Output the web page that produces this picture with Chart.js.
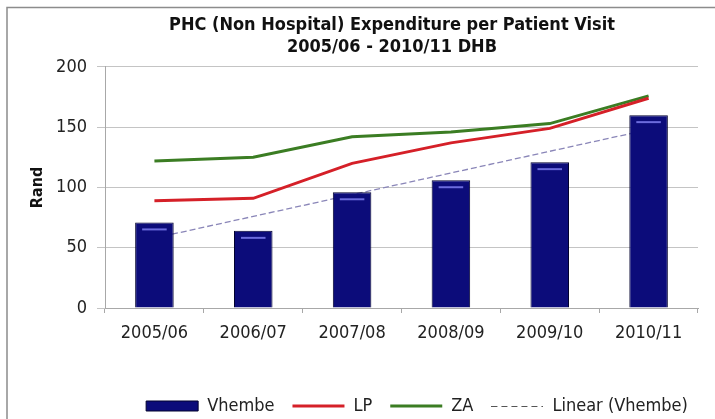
<!DOCTYPE html>
<html>
<head>
<meta charset="utf-8">
<script src="https://cdn.jsdelivr.net/npm/chart.js@4/dist/chart.umd.min.js"></script>
<style>
  html, body { margin: 0; padding: 0; background: #fff; }
  #wrap { width: 715px; height: 419px; position: relative; }
</style>
</head>
<body>
<div id="wrap"><canvas id="chart" width="715" height="419"></canvas></div>
<script>
// data
const years = ['2005/06', '2006/07', '2007/08', '2008/09', '2009/10', '2010/11'];
const vhembe = [71, 64, 96, 106, 121, 160];
const lp = [89, 91, 120, 137, 149, 174];
const za = [122, 125, 142, 146, 153, 176];
const linearVhembe = [58, 76, 94, 112, 130, 148];
const yTicks = [0, 50, 100, 150, 200];

const FONT = "'DejaVu Sans Condensed', 'DejaVu Sans', sans-serif";
const TREND = '#8a86b8';

// dashed swatch for the trendline legend entry
const dashSwatch = document.createElement('canvas');
dashSwatch.width = 52;
dashSwatch.height = 10;
(function () {
    const c = dashSwatch.getContext('2d');
    c.strokeStyle = '#555';
    c.lineWidth = 1.2;
    c.setLineDash([6, 4]);
    c.beginPath();
    c.moveTo(0, 5.5);
    c.lineTo(52, 5.5);
    c.stroke();
})();

// outer frame like the pasted Excel chart
const framePlugin = {
    id: 'frame',
    beforeDraw(chart) {
        const ctx = chart.ctx;
        ctx.save();
        ctx.strokeStyle = '#8c8c8c';
        ctx.lineWidth = 1.5;
        ctx.beginPath();
        ctx.moveTo(7, 419);
        ctx.lineTo(7, 7.5);
        ctx.lineTo(715, 7.5);
        ctx.stroke();
        ctx.restore();
    }
};

// light sheen near the top of every bar
const sheenPlugin = {
    id: 'sheen',
    afterDatasetsDraw(chart) {
        const meta = chart.getDatasetMeta(0);
        const ctx = chart.ctx;
        ctx.save();
        meta.data.forEach(bar => {
            const half = bar.width / 2;
            ctx.strokeStyle = 'rgba(140,140,255,0.75)';
            ctx.lineWidth = 2;
            ctx.beginPath();
            ctx.moveTo(bar.x - half + 7, bar.y + 7);
            ctx.lineTo(bar.x + half - 7, bar.y + 7);
            ctx.stroke();
        });
        ctx.restore();
    }
};

// title and legend sit a bit right of centre in the original
const shiftPlugin = {
    id: 'shift',
    afterLayout(chart) {
        chart.titleBlock.left += 33;
        chart.titleBlock.right += 33;
        chart.legend.left += 58;
        chart.legend.right += 58;
        chart.legend.top += 8;
        chart.legend.bottom += 8;
    }
};

new Chart(document.getElementById('chart'), {
    type: 'bar',
    data: {
        labels: years,
        datasets: [
            {
                type: 'bar', label: 'Vhembe', data: vhembe,
                backgroundColor: '#0c0c7a', borderColor: '#02022e', borderWidth: 1,
                barPercentage: 0.39, categoryPercentage: 1, pointStyle: 'rect'
            },
            {
                type: 'line', label: 'LP', data: lp,
                borderColor: '#d52028', backgroundColor: '#d52028', borderWidth: 3,
                pointRadius: 0, pointStyle: 'line', tension: 0
            },
            {
                type: 'line', label: 'ZA', data: za,
                borderColor: '#3b7d23', backgroundColor: '#3b7d23', borderWidth: 3,
                pointRadius: 0, pointStyle: 'line', tension: 0
            },
            {
                type: 'line', label: 'Linear (Vhembe)', data: linearVhembe,
                borderColor: TREND, backgroundColor: TREND, borderWidth: 1.3,
                borderDash: [6, 3], pointRadius: 0, pointStyle: dashSwatch, tension: 0
            }
        ]
    },
    options: {
        responsive: false,
        animation: false,
        layout: { padding: { left: 20, right: 17, top: 0, bottom: 2 } },
        plugins: {
            title: {
                display: true,
                text: ['PHC (Non Hospital) Expenditure per Patient Visit', '2005/06 - 2010/11 DHB'],
                color: '#111',
                font: { family: FONT, size: 18, weight: 'bold', lineHeight: 1.22 },
                padding: { top: 14, bottom: 9 }
            },
            legend: {
                position: 'bottom',
                labels: {
                    usePointStyle: true,
                    pointStyleWidth: 52,
                    boxHeight: 10,
                    color: '#222',
                    font: { family: FONT, size: 18 },
                    padding: 18
                }
            },
            tooltip: { enabled: false }
        },
        scales: {
            x: {
                afterFit: scale => { scale.height = 63; },
                grid: { drawOnChartArea: false, offset: true, tickLength: 5, color: '#a8a8a8' },
                border: { color: '#a8a8a8' },
                ticks: { color: '#222', font: { family: FONT, size: 18 }, padding: 10 }
            },
            y: {
                min: 0, max: 200,
                afterFit: scale => { scale.width = 85; },
                afterBuildTicks: axis => { axis.ticks = yTicks.map(v => ({ value: v })); },
                grid: { color: '#c4c4c4', tickLength: 8 },
                border: { color: '#a8a8a8' },
                ticks: { color: '#222', font: { family: FONT, size: 18 }, padding: 10 },
                title: {
                    display: true, text: 'Rand', color: '#111',
                    font: { family: FONT, size: 16, weight: 'bold' }, padding: 8
                }
            }
        }
    },
    plugins: [framePlugin, sheenPlugin, shiftPlugin]
});
</script>
</body>
</html>
